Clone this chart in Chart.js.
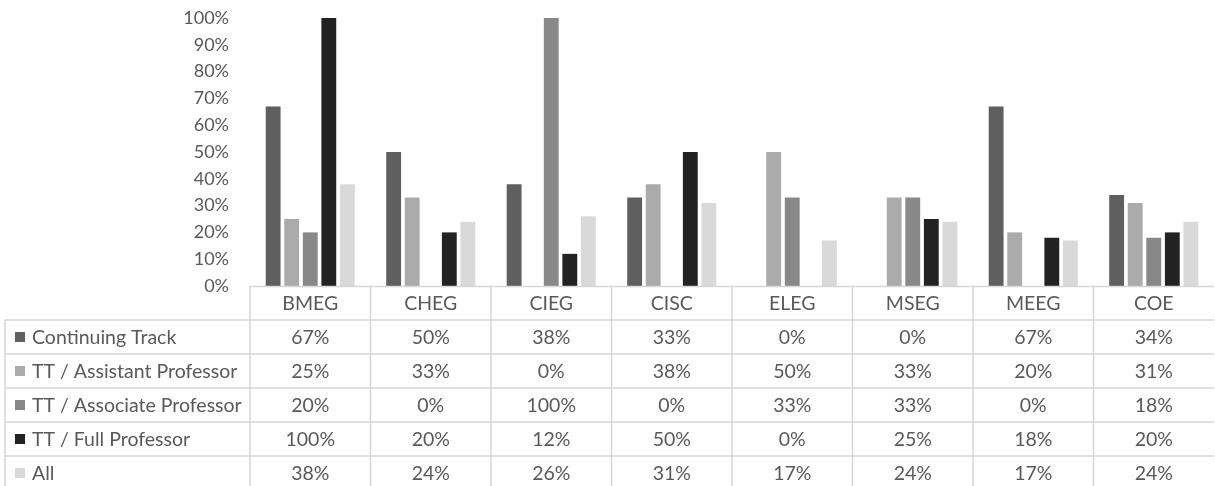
<!DOCTYPE html>
<html>
<head>
<meta charset="utf-8">
<script src="https://cdn.jsdelivr.net/npm/chart.js@4"></script>
<style>
  body { margin: 0; background: #fff; }
  #wrap { width: 1215px; height: 486px; }
</style>
</head>
<body>
<div id="wrap"><canvas id="myChart" width="1215" height="486"></canvas></div>
<script>
const categories = ['BMEG', 'CHEG', 'CIEG', 'CISC', 'ELEG', 'MSEG', 'MEEG', 'COE'];
const seriesNames = ['Continuing Track', 'TT / Assistant Professor', 'TT / Associate Professor', 'TT / Full Professor', 'All'];
const continuingTrack = [67, 50, 38, 33, 0, 0, 67, 34];
const ttAssistant = [25, 33, 0, 38, 50, 33, 20, 31];
const ttAssociate = [20, 0, 100, 0, 33, 33, 0, 18];
const ttFull = [100, 20, 12, 50, 0, 25, 18, 20];
const allFaculty = [38, 24, 26, 31, 17, 24, 17, 24];
const yTicks = [0, 10, 20, 30, 40, 50, 60, 70, 80, 90, 100];

const colors = ['#5f5f5f', '#ababab', '#888888', '#222222', '#d9d9d9'];
const seriesValues = [continuingTrack, ttAssistant, ttAssociate, ttFull, allFaculty];

const textColor = '#595959';
const lineColor = '#d6d6d6';
const fontFamily = 'Lato, "Open Sans", sans-serif';

// data table drawn under the plot, columns follow the x scale
const dataTable = {
    id: 'dataTable',
    afterDraw(chart) {
        const ctx = chart.ctx;
        const area = chart.chartArea;
        const xs = chart.scales.x;
        const n = categories.length;
        const colW = (area.right - area.left) / n;
        const tableLeft = 5;
        const headTop = area.bottom;
        const headBottom = headTop + 34;
        const rowH = 34;
        const bottom = 486;

        ctx.save();
        ctx.strokeStyle = lineColor;
        ctx.lineWidth = 1.5;
        ctx.beginPath();
        ctx.moveTo(area.left, headTop + 0.5);
        ctx.lineTo(area.right, headTop + 0.5);
        for (let r = 0; r < seriesNames.length; r++) {
            const y = headBottom + r * rowH;
            ctx.moveTo(tableLeft, y);
            ctx.lineTo(area.right, y);
        }
        ctx.moveTo(tableLeft, headBottom);
        ctx.lineTo(tableLeft, bottom);
        for (let i = 0; i < n; i++) {
            const x = area.left + i * colW;
            ctx.moveTo(x, headTop);
            ctx.lineTo(x, bottom);
        }
        ctx.stroke();

        ctx.fillStyle = textColor;
        ctx.font = '19.5px ' + fontFamily;
        ctx.textBaseline = 'middle';
        ctx.textAlign = 'center';
        for (let i = 0; i < n; i++) {
            const cx = xs.getPixelForTick(i);
            ctx.fillText(categories[i], cx, (headTop + headBottom) / 2 + 1);
            for (let r = 0; r < seriesValues.length; r++) {
                const cy = headBottom + r * rowH + rowH / 2 + 1;
                ctx.fillText(seriesValues[r][i] + '%', cx, cy);
            }
        }
        ctx.textAlign = 'left';
        for (let r = 0; r < seriesNames.length; r++) {
            const cy = headBottom + r * rowH + rowH / 2;
            ctx.fillStyle = colors[r];
            ctx.fillRect(15, cy - 5, 10, 10);
            ctx.fillStyle = textColor;
            ctx.fillText(seriesNames[r], 32, cy + 1);
        }
        ctx.restore();
    }
};

const data = {
    labels: categories,
    datasets: seriesNames.map((name, k) => ({
        label: name,
        data: seriesValues[k],
        backgroundColor: colors[k],
        borderColor: colors[k],
        borderWidth: 0,
        categoryPercentage: 0.77,
        barPercentage: 0.8
    }))
};

const config = {
    type: 'bar',
    data: data,
    options: {
        responsive: false,
        animation: false,
        layout: {
            padding: { top: 18, bottom: 200, left: 0, right: 1 }
        },
        plugins: {
            legend: { display: false },
            tooltip: { enabled: false }
        },
        scales: {
            x: { display: false },
            y: {
                min: 0,
                max: 100,
                afterBuildTicks: (scale) => {
                    scale.ticks = yTicks.map(v => ({ value: v }));
                },
                afterFit: (scale) => {
                    scale.width = 250;
                    scale.paddingTop = 0;
                    scale.paddingBottom = 0;
                },
                grid: { display: false, drawTicks: false },
                border: { display: false },
                ticks: {
                    padding: 21,
                    color: textColor,
                    font: { family: fontFamily, size: 18 },
                    callback: (v) => v + '%'
                }
            }
        }
    },
    plugins: [dataTable]
};

var myChart = new Chart(document.getElementById('myChart'), config);
</script>
</body>
</html>
